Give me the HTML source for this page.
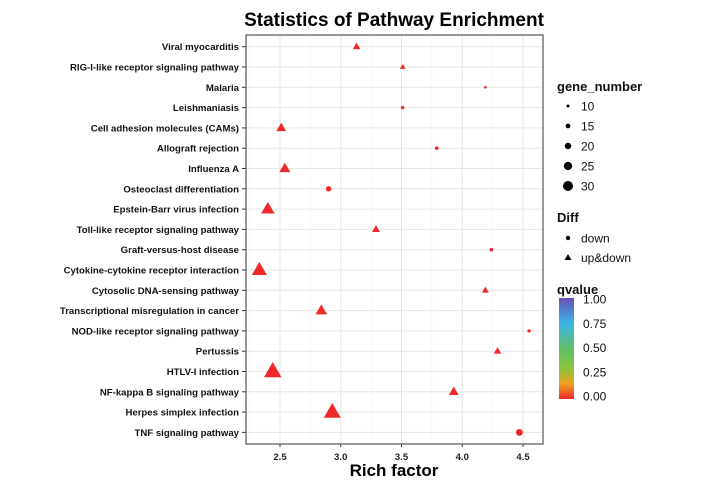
<!DOCTYPE html>
<html><head><meta charset="utf-8"><style>
body{margin:0;background:#fff;}
svg{font-family:"Liberation Sans",Arial,sans-serif;}
</style></head><body>
<svg id="c" width="701" height="481" xmlns="http://www.w3.org/2000/svg">
<text x="394" y="26" font-size="19" font-weight="bold" text-anchor="middle">Statistics of Pathway Enrichment</text>
<g id="plot"></g>
<text x="394" y="476" font-size="17" font-weight="bold" text-anchor="middle">Rich factor</text>
<g id="legend"></g>
</svg>
<script>
const categories=["Viral myocarditis","RIG-I-like receptor signaling pathway","Malaria","Leishmaniasis","Cell adhesion molecules (CAMs)","Allograft rejection","Influenza A","Osteoclast differentiation","Epstein-Barr virus infection","Toll-like receptor signaling pathway","Graft-versus-host disease","Cytokine-cytokine receptor interaction","Cytosolic DNA-sensing pathway","Transcriptional misregulation in cancer","NOD-like receptor signaling pathway","Pertussis","HTLV-I infection","NF-kappa B signaling pathway","Herpes simplex infection","TNF signaling pathway"];
const richFactor=[3.13,3.51,4.19,3.51,2.51,3.79,2.54,2.90,2.40,3.29,4.24,2.33,4.19,2.84,4.55,4.29,2.44,3.93,2.93,4.47];
const geneNumber=[14,11,9,11,18,12,20,17,24,15,12,27,13,21,11,14,31,18,30,21];
const diff=["up&down","up&down","down","down","up&down","down","up&down","down","up&down","up&down","down","up&down","up&down","up&down","down","up&down","up&down","up&down","up&down","down"];
const qvalue=[0,0,0,0,0,0,0,0,0,0,0,0,0,0,0,0,0,0,0,0];
const xTicks=[2.5,3.0,3.5,4.0,4.5];
const sizeLegend=[10,15,20,25,30];
const qTicks=["1.00","0.75","0.50","0.25","0.00"];

const NS="http://www.w3.org/2000/svg";
const L=246,R=543,T=35,B=444;
const xs=v=>280+(v-2.5)*121.5;
const ys=i=>46.7+i*20.3;
const rs=g=>1.5+(g-10)*0.175;
function mk(tag,attrs,parent){const e=document.createElementNS(NS,tag);for(const k in attrs)e.setAttribute(k,attrs[k]);parent.appendChild(e);return e;}
const plot=document.getElementById('plot');
const bg=mk('rect',{x:L,y:T,width:R-L,height:B-T,fill:'#fff',stroke:'none'},plot);


for(let v=2.25;v<=4.75;v+=0.5){const x=xs(v);if(x>L&&x<R){const g=mk('line',{x1:x,x2:x,y1:T,y2:B,stroke:'#f2f2f2','stroke-width':0.6},plot);}}
xTicks.forEach(v=>{const x=xs(v);
const g=mk('line',{x1:x,x2:x,y1:T,y2:B,stroke:'#e6e6e6','stroke-width':1},plot);


mk('line',{x1:x,x2:x,y1:B,y2:B+3,stroke:'#333'},plot);
const t=mk('text',{x:x,y:460,'font-size':9.5,'font-weight':'bold','text-anchor':'middle',fill:'#222'},plot);t.textContent=v.toFixed(1);

});
categories.forEach((c,i)=>{const y=ys(i);
const g=mk('line',{x1:L,x2:R,y1:y,y2:y,stroke:'#e6e6e6','stroke-width':1},plot);


mk('line',{x1:L-4,x2:L,y1:y,y2:y,stroke:'#333'},plot);
const t=mk('text',{x:L-7,y:y+3.5,'font-size':9.6,'font-weight':'bold','text-anchor':'end',fill:'#111'},plot);t.textContent=c;

});
const frame=mk('rect',{x:L,y:T,width:R-L,height:B-T,fill:'none',stroke:'#555','stroke-width':1.2},plot);


function qcol(q){return q<0.1?'#ee2a2a':'#7a5cc8';}
categories.forEach((c,i)=>{const x=xs(richFactor[i]),y=ys(i),r=rs(geneNumber[i]);let e;
if(diff[i]==='down'){e=mk('circle',{cx:x,cy:y,r:r,fill:qcol(qvalue[i])},plot);}
else{const s=r*3.4,h=s*0.866;e=mk('polygon',{points:`${x},${y-h*0.62} ${x-s/2},${y+h*0.38} ${x+s/2},${y+h*0.38}`,fill:qcol(qvalue[i])},plot);}

});
const lg=document.getElementById('legend');
function txt(x,y,s,size,bold,name){const t=mk('text',{x:x,y:y,'font-size':size,'font-weight':bold?'bold':'normal',fill:'#111'},lg);t.textContent=s;return t;}
txt(557,91,'gene_number',13,true,'size-legend-title');
sizeLegend.forEach((g,i)=>{const y=106+i*20;
const c=mk('circle',{cx:568,cy:y,r:rs(g),fill:'#000'},lg);


txt(581,y+4.5,String(g),12,false,'size-legend-label');});
txt(557,222,'Diff',13,true,'shape-legend-title');
const dc=mk('circle',{cx:568,cy:238,r:2.2,fill:'#000'},lg);


txt(581,242.5,'down',12,false,'shape-legend-label');
const tp=mk('polygon',{points:'568,254 564.5,260 571.5,260',fill:'#000'},lg);


txt(581,262,'up&down',12,false,'shape-legend-label');
txt(557,294,'qvalue',13,true,'color-legend-title');
const defs=mk('defs',{},lg);const gr=mk('linearGradient',{id:'qg',x1:0,y1:0,x2:0,y2:1},defs);
[['0','#6a4fb5'],['0.25','#38b6e6'],['0.5','#5fbf6a'],['0.7','#8cc43a'],['0.85','#f0a020'],['1','#ee2a2a']].forEach(s=>mk('stop',{offset:s[0],'stop-color':s[1]},gr));
const cb=mk('rect',{x:559,y:298,width:15,height:101,fill:'url(#qg)'},lg);


qTicks.forEach((q,i)=>{const y=299+i*24.3;txt(583,y+4.5,q,12,false,'color-legend-label');});
</script>
</body></html>
